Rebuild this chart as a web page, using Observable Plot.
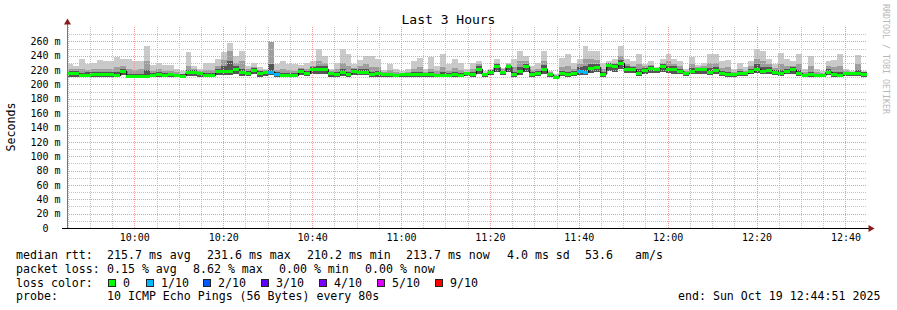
<!DOCTYPE html>
<html><head><meta charset="utf-8">
<script src="https://cdn.jsdelivr.net/npm/d3@7"></script>
<script src="https://cdn.jsdelivr.net/npm/@observablehq/plot@0.6"></script>
<style>
body{margin:0;background:#fff;}
#wrap{position:relative;width:897px;height:310px;overflow:hidden;font-family:"DejaVu Sans Mono",monospace;color:#000;}
#wrap svg{position:absolute;left:0;top:0;}
.t{position:absolute;white-space:pre;font-size:11.6px;line-height:14px;}
.sw{position:absolute;width:6px;height:6px;border:1px solid #222;}
</style></head>
<body><div id="wrap"></div>
<script>
// ---- data ----
const title = "Last 3 Hours";
const yAxisLabel = "Seconds";
const watermark = "RRDTOOL / TOBI OETIKER";
const startUTC = Date.UTC(2025, 9, 19, 9, 44, 51);
const endUTC = Date.UTC(2025, 9, 19, 12, 44, 51);
const stepSeconds = 80;

// median rtt per 80 s interval (ms)
const med = [
216,216,213,213,214,214,215,215,213,219,
212,212,212,212,213,214,213,214,213,212,
217,217,216,213,213,219,219,219,222,217,
216,220,216,217,218,214,213,213,213,219,
216,221,222,222,216,214,218,215,219,218,
218,215,216,214,214,213,214,214,214,214,
214,214,213,213,213,214,213,216,215,222,
214,218,225,218,225,215,219,225,215,216,
222,214,211,216,214,216,219,218,223,224,
215,227,225,230,222,221,216,220,223,222,
225,222,221,219,216,219,221,221,218,220,
216,214,214,216,216,219,222,219,220,218,
216,219,221,216,213,214,213,213,218,214,
213,216,216,216,215];
// smoke bottom (fastest ping)
const lo = [
211,211,210,210,211,210,211,211,210,213,
210,210,209,209,210,210,210,211,210,210,
212,212,211,210,210,213,213,213,215,212,
212,214,211,212,213,210,210,210,210,213,
212,215,215,215,211,210,212,211,213,213,
213,211,211,210,210,210,210,210,210,210,
210,210,210,210,210,210,210,212,211,215,
210,213,218,213,218,211,213,218,211,212,
215,210,209,212,211,212,213,213,216,217,
211,219,218,221,216,216,212,215,216,216,
218,216,215,214,212,214,215,215,213,214,
212,211,211,212,212,214,216,214,215,213,
212,214,215,212,210,211,210,210,213,211,
210,212,212,212,211];
// dark smoke top (inner pings)
const dk = [
219,219,216,217,217,218,218,218,217,222,
215,215,215,220,216,217,216,216,215,214,
220,220,218,216,216,222,226,232,226,222,
219,223,219,219,228,217,216,216,216,221,
219,224,226,226,218,217,222,218,221,221,
222,218,219,216,216,215,215,216,217,218,
216,217,215,217,216,217,216,218,218,226,
216,220,228,219,227,218,224,228,218,219,
227,216,212,219,218,219,224,226,228,228,
218,230,228,234,225,224,221,223,226,223,
228,226,225,222,218,223,223,223,223,224,
219,218,216,219,218,222,228,224,224,220,
220,222,224,220,215,218,215,215,221,217,
217,218,217,220,217];
// medium smoke top
const mid = [
222,221,222,220,221,222,222,221,224,226,
222,220,221,232,219,221,219,219,217,215,
226,221,219,220,220,226,234,246,230,232,
221,224,220,220,259,220,222,220,219,223,
222,226,232,230,219,221,230,226,223,225,
228,224,224,217,220,217,216,218,222,224,
218,222,219,224,219,223,220,218,222,228,
216,220,230,221,228,224,232,232,220,222,
232,217,213,224,226,222,228,236,235,234,
221,230,230,240,228,226,228,225,227,223,
230,232,228,225,219,228,224,225,230,230,
223,224,217,222,219,225,236,232,228,223,
228,226,226,228,217,226,217,216,225,224,
226,219,218,228,217];
// smoke top (slowest ping)
const hi = [
229,226,236,229,230,234,233,232,238,236,
236,232,232,253,227,230,227,227,221,219,
245,226,221,230,230,235,245,258,240,246,
226,230,224,222,259,229,232,229,228,227,
230,232,249,240,222,230,249,242,228,234,
240,240,235,220,229,221,219,222,233,237,
221,238,226,243,228,235,230,221,230,232,
219,221,235,223,230,235,247,240,226,230,
247,219,214,237,243,230,235,253,247,246,
230,232,235,253,235,232,243,229,232,224,
235,243,236,232,222,238,227,230,242,242,
232,234,221,230,224,232,249,246,236,229,
244,236,233,243,222,240,221,219,232,234,
243,221,219,241,219];
// intervals with packet loss (index, lost pings of 10)
const lossIndex = [34, 35, 86, 87];
const lossCount = [1, 1, 1, 1];

const lossLabels = ["0", "1/10", "2/10", "3/10", "4/10", "5/10", "9/10"];
const lossColors = ["#00ff00", "#00b8ff", "#0059ff", "#5e00ff", "#7e00ff", "#dd00ff", "#ff0000"];
const colorByCount = {0:"#00ff00",1:"#00b8ff",2:"#0059ff",3:"#5e00ff",4:"#7e00ff",5:"#dd00ff",9:"#ff0000"};

const yMajor = [0,20,40,60,80,100,120,140,160,180,200,220,240,260];
const yMinor = [10,30,50,70,90,110,130,150,170,190,210,230,250,270];
const xMajorLabels = ["10:00","10:20","10:40","11:00","11:20","11:40","12:00","12:20","12:40"];

const row1 = ["median rtt:", "215.7 ms avg", "231.6 ms max", "210.2 ms min", "213.7 ms now", "4.0 ms sd", "53.6", "am/s"];
const row2 = ["packet loss:", "0.15 % avg", "8.62 % max", "0.00 % min", "0.00 % now"];
const row3Head = "loss color:";
const row4 = ["probe:", "10 ICMP Echo Pings (56 Bytes) every 80s", "end: Sun Oct 19 12:44:51 2025"];

// ---- layout ----
const row1X = [16,107,207,307,406,507,585,635];
const row2X = [16,107,193,279,365];
const swX = [108,146,203,261,319,377,435];
const row4X = [16,107,678];
const rowCY = [255, 268.5, 282.5, 296];

// ---- build ----
const rows = med.map((m, i) => {
  const k = lossIndex.indexOf(i);
  const n = k >= 0 ? lossCount[k] : 0;
  return {
    t0: new Date(startUTC + i * stepSeconds * 1000),
    t1: new Date(startUTC + (i + 1) * stepSeconds * 1000),
    med: m, lo: lo[i], dk: dk[i], mid: mid[i], hi: hi[i],
    color: colorByCount[n]
  };
});
const xMajor = xMajorLabels.map(s => { const [h, m] = s.split(":").map(Number); return new Date(Date.UTC(2025, 9, 19, h, m)); });
const xMinor = d3.utcMinute.every(5).range(new Date(startUTC), new Date(endUTC)).filter(d => d.getUTCMinutes() % 20 !== 0);

const crisp = {shapeRendering: "crispEdges"};
const chart = Plot.plot({
  width: 897, height: 310,
  marginTop: 27, marginBottom: 82, marginLeft: 67, marginRight: 30,
  style: {fontFamily: "DejaVu Sans Mono", fontSize: "10px", background: "transparent", color: "#000"},
  x: {type: "utc", domain: [new Date(startUTC), new Date(endUTC)]},
  y: {domain: [0, 280]},
  color: {type: "identity"},
  marks: [
    Plot.rect(rows, {x1: "t0", x2: "t1", y1: "lo", y2: "hi", fill: "#cacaca", ...crisp}),
    Plot.rect(rows, {x1: "t0", x2: "t1", y1: "lo", y2: "mid", fill: "#9e9e9e", ...crisp}),
    Plot.rect(rows, {x1: "t0", x2: "t1", y1: "lo", y2: "dk", fill: "#555555", ...crisp}),
    Plot.gridY(yMinor, {stroke: "#c4c4c4", strokeOpacity: 1, strokeDasharray: "1,1", ...crisp}),
    Plot.gridX(xMinor, {stroke: "#c4c4c4", strokeOpacity: 1, strokeDasharray: "1,1", ...crisp}),
    Plot.gridY(yMajor.slice(1), {stroke: "#f09a9a", strokeOpacity: 1, strokeDasharray: "1,1", ...crisp}),
    Plot.gridX(xMajor, {stroke: "#f09a9a", strokeOpacity: 1, strokeDasharray: "1,1", ...crisp}),
    Plot.line(rows, {x: "t0", y: "med", curve: "step-after", stroke: "#000", strokeWidth: 1}),
    Plot.ruleY(rows, {y: "med", x1: "t0", x2: "t1", stroke: "color", strokeWidth: 3, ...crisp}),
    Plot.axisY(yMajor, {tickSize: 0, tickPadding: 7, fontSize: 10, label: null,
      tickFormat: d => d === 0 ? "0\u00a0\u00a0" : `${d} m`}),
    Plot.axisX(xMajor, {tickSize: 0, tickPadding: 5, fontSize: 10, label: null,
      tickFormat: d3.utcFormat("%H:%M")}),
    Plot.frame({anchor: "left", stroke: "#777", insetTop: -5, ...crisp}),
    Plot.frame({anchor: "bottom", stroke: "#000", insetLeft: -5, insetRight: -2, ...crisp}),
    Plot.dot([0], {frameAnchor: "top-left", symbol: "triangle", r: 2.6, fill: "#8b1a1a", stroke: "none", dy: -5}),
    Plot.dot([0], {frameAnchor: "bottom-right", symbol: "triangle", r: 2.6, fill: "#8b1a1a", stroke: "none", rotate: 90, dx: 3})
  ]
});
const wrap = document.getElementById("wrap");
wrap.appendChild(chart);

function place(text, x, cy, extra) {
  const s = document.createElement("div");
  s.className = "t";
  s.textContent = text;
  s.style.left = x + "px";
  s.style.top = (cy - 7) + "px";
  if (extra) Object.assign(s.style, extra);
  wrap.appendChild(s);
  return s;
}
// title
const tt = place(title, 0, 20, {width: "897px", textAlign: "center", fontSize: "13px", left: "0px"});
// y label
place(yAxisLabel, 11, 127, {transform: "translate(-50%,0) rotate(-90deg)", transformOrigin: "50% 50%"});
// watermark
place(watermark, 881, 60, {writingMode: "vertical-rl", fontSize: "8.3px", color: "#b8b8b8", top: "4px", lineHeight: "10px"});

row1.forEach((t, i) => place(t, row1X[i], rowCY[0]));
row2.forEach((t, i) => place(t, row2X[i], rowCY[1]));
place(row3Head, 16, rowCY[2]);
lossLabels.forEach((t, i) => {
  const sw = document.createElement("div");
  sw.className = "sw";
  sw.style.left = swX[i] + "px";
  sw.style.top = (rowCY[2] - 4) + "px";
  sw.style.background = lossColors[i];
  wrap.appendChild(sw);
  place(t, swX[i] + 15, rowCY[2]);
});
row4.forEach((t, i) => place(t, row4X[i], rowCY[3]));
</script></body></html>
